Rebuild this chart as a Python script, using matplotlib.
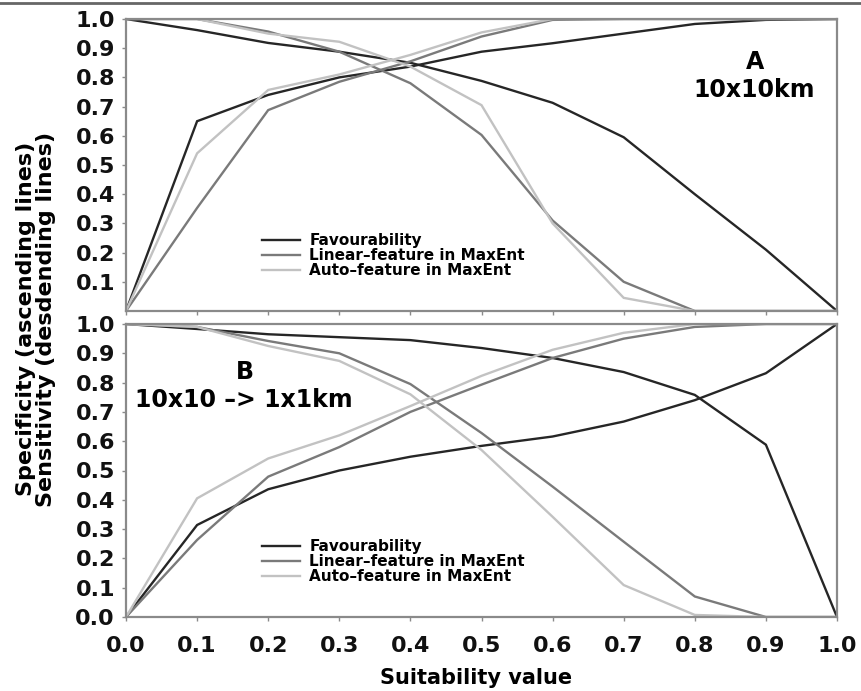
import matplotlib
matplotlib.use("Agg")
import matplotlib.pyplot as plt
from matplotlib.lines import Line2D

plt.rcParams['font.family'] = ['DejaVu Sans']
plt.rcParams['font.weight'] = 'bold'

x = [0.0, 0.1, 0.2, 0.3, 0.4, 0.5, 0.6, 0.7, 0.8, 0.9, 1.0]
xticklabels = ["0.0", "0.1", "0.2", "0.3", "0.4", "0.5", "0.6", "0.7", "0.8", "0.9", "1.0"]
series_names = ["Favourability", "Linear\u2013feature in MaxEnt", "Auto\u2013feature in MaxEnt"]

# Panel A (10x10 km)
a_fav_spec = [0.0, 0.65, 0.74, 0.80, 0.837, 0.888, 0.917, 0.95, 0.983, 0.997, 1.0]
a_lin_spec = [0.0, 0.353, 0.688, 0.785, 0.855, 0.94, 0.997, 1.0, 1.0, 1.0, 1.0]
a_auto_spec = [0.0, 0.54, 0.757, 0.81, 0.877, 0.954, 1.0, 1.0, 1.0, 1.0, 1.0]
a_fav_sens = [1.0, 0.962, 0.918, 0.888, 0.85, 0.788, 0.713, 0.595, 0.40, 0.21, 0.0]
a_lin_sens = [1.0, 1.0, 0.957, 0.888, 0.78, 0.603, 0.31, 0.10, 0.0, 0.0, 0.0]
a_auto_sens = [1.0, 1.0, 0.95, 0.922, 0.837, 0.705, 0.30, 0.045, 0.0, 0.0, 0.0]

# Panel B (10x10 -> 1x1 km)
b_fav_spec = [0.0, 0.314, 0.436, 0.50, 0.547, 0.584, 0.616, 0.667, 0.74, 0.832, 1.0]
b_lin_spec = [0.0, 0.263, 0.479, 0.58, 0.70, 0.793, 0.884, 0.95, 0.99, 1.0, 1.0]
b_auto_spec = [0.0, 0.405, 0.541, 0.62, 0.72, 0.823, 0.912, 0.97, 1.0, 1.0, 1.0]
b_fav_sens = [1.0, 0.983, 0.965, 0.955, 0.945, 0.918, 0.884, 0.836, 0.758, 0.588, 0.0]
b_lin_sens = [1.0, 0.99, 0.942, 0.90, 0.795, 0.628, 0.445, 0.257, 0.07, 0.0, 0.0]
b_auto_sens = [1.0, 0.99, 0.925, 0.874, 0.76, 0.57, 0.342, 0.109, 0.007, 0.0, 0.0]

colors = ["#262626", "#7a7a7a", "#c2c2c2"]
lw = 1.7
frame_col = "#8a8a8a"

W, H = 861, 691
fig = plt.figure(figsize=(W / 100, H / 100), dpi=100)
fig.patch.set_facecolor("white")

axA = fig.add_axes([126 / W, 1 - 311 / H, 711 / W, 292 / H])
axB = fig.add_axes([126 / W, 1 - 617 / H, 711 / W, 293 / H])

def style(ax, yticks, show_x):
    ax.set_xlim(0, 1)
    ax.set_ylim(0, 1)
    for s in ax.spines.values():
        s.set_color(frame_col)
        s.set_linewidth(1.6)
    ax.set_yticks(yticks)
    ax.set_yticklabels([f"{v:.1f}" for v in yticks], fontsize=16, fontweight='bold')
    ax.set_xticks(x)
    if show_x:
        ax.set_xticklabels(xticklabels, fontsize=16, fontweight='bold')
    else:
        ax.set_xticklabels([])
        ax.tick_params(axis='x', length=0)
    ax.tick_params(axis='both', colors=frame_col, labelcolor="#111111", length=3, width=1)
    ax.tick_params(axis='y', pad=5)
    ax.tick_params(axis='x', pad=11)

def draw(ax, specs, senss):
    handles = []
    for sp, se, c in zip(specs, senss, colors):
        h, = ax.plot(x, sp, color=c, lw=lw, solid_joinstyle='miter')
        ax.plot(x, se, color=c, lw=lw, solid_joinstyle='miter')
        handles.append(h)
    return handles

hA = draw(axA, [a_fav_spec, a_lin_spec, a_auto_spec], [a_fav_sens, a_lin_sens, a_auto_sens])
hB = draw(axB, [b_fav_spec, b_lin_spec, b_auto_spec], [b_fav_sens, b_lin_sens, b_auto_sens])

style(axA, [0.1, 0.2, 0.3, 0.4, 0.5, 0.6, 0.7, 0.8, 0.9, 1.0], False)
style(axB, [0.0, 0.1, 0.2, 0.3, 0.4, 0.5, 0.6, 0.7, 0.8, 0.9, 1.0], True)

leg_kw = dict(loc='upper left', frameon=False, prop={'size': 11, 'weight': 'bold'},
              handlelength=2.5, handletextpad=0.6, labelspacing=0.0, borderpad=0,
              borderaxespad=0)
legA = axA.legend(hA, series_names, bbox_to_anchor=((262 - 126) / 711, (311 - 233) / 292), **leg_kw)
legB = axB.legend(hB, series_names, bbox_to_anchor=((262 - 126) / 711, (617 - 539) / 293), **leg_kw)

axA.text((755 - 126) / 711, (311 - 62) / 292, "A", ha='center', va='center', fontsize=17, fontweight='bold')
axA.text((754 - 126) / 711, (311 - 90) / 292, "10x10km", ha='center', va='center', fontsize=17, fontweight='bold')
axB.text((245 - 126) / 711, (617 - 372) / 293, "B", ha='center', va='center', fontsize=17, fontweight='bold')
axB.text((244 - 126) / 711, (617 - 400) / 293, "10x10 \u2013> 1x1km", ha='center', va='center', fontsize=17, fontweight='bold')

fig.text(36 / W, 1 - 319 / H, "Specificity (ascending lines)\nSensitivity (desdending lines)",
         rotation=90, ha='center', va='center', fontsize=16, fontweight='bold', linespacing=0.97,
         multialignment='center')
fig.text(476 / W, 1 - 678 / H, "Suitability value", ha='center', va='center', fontsize=15, fontweight='bold')

fig.add_artist(Line2D([0, 1], [1 - 3 / H, 1 - 3 / H], color="#666666", lw=2))

fig.savefig("out.png", dpi=100)
